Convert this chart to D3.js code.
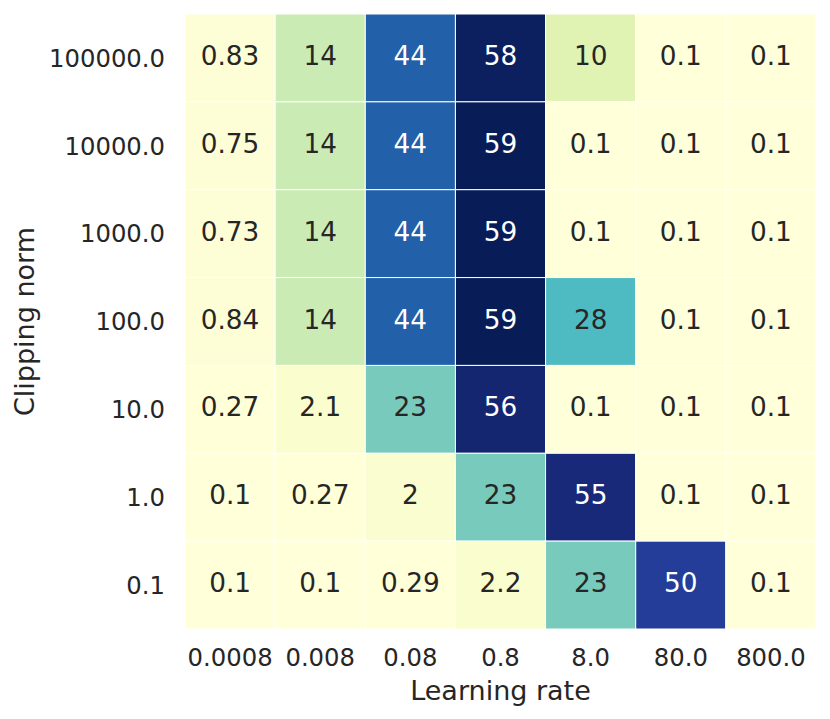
<!DOCTYPE html>
<html>
<head>
<meta charset="utf-8">
<script src="https://cdn.jsdelivr.net/npm/d3@7"></script>
<style>
  html, body { margin: 0; padding: 0; background: #fff; }
  svg { display: block; font-family: "DejaVu Sans", sans-serif; }
</style>
</head>
<body>
<svg id="chart" width="830" height="719"></svg>
<script>
// Data
const learningRates = ["0.0008", "0.008", "0.08", "0.8", "8.0", "80.0", "800.0"];
const clippingNorms = ["100000.0", "10000.0", "1000.0", "100.0", "10.0", "1.0", "0.1"];
const row100000 = [0.83, 14, 44, 58, 10, 0.1, 0.1];
const row10000  = [0.75, 14, 44, 59, 0.1, 0.1, 0.1];
const row1000   = [0.73, 14, 44, 59, 0.1, 0.1, 0.1];
const row100    = [0.84, 14, 44, 59, 28, 0.1, 0.1];
const row10     = [0.27, 2.1, 23, 56, 0.1, 0.1, 0.1];
const row1      = [0.1, 0.27, 2, 23, 55, 0.1, 0.1];
const row01     = [0.1, 0.1, 0.29, 2.2, 23, 50, 0.1];
const rows = [row100000, row10000, row1000, row100, row10, row1, row01];
const xLabel = "Learning rate";
const yLabel = "Clipping norm";

const cells = [];
rows.forEach((r, i) => r.forEach((v, j) => cells.push({ row: clippingNorms[i], col: learningRates[j], v })));

const svg = d3.select("#chart");
const mLeft = 185, mTop = 14, mRight = 816, mBottom = 629;

const x = d3.scaleBand().domain(learningRates).range([mLeft, mRight]).padding(0);
const y = d3.scaleBand().domain(clippingNorms).range([mTop, mBottom]).padding(0);

const allVals = cells.map(d => d.v);
const vmin = d3.min(allVals), vmax = d3.max(allVals);
const ylgnbu = ["#ffffd9","#edf8b1","#c7e9b4","#7fcdbb","#41b6c4","#1d91c0","#225ea8","#253494","#081d58"];
const color = d3.scaleLinear()
  .domain(ylgnbu.map((c, i) => vmin + (vmax - vmin) * i / (ylgnbu.length - 1)))
  .range(ylgnbu)
  .interpolate(d3.interpolateRgb)
  .clamp(true);

function lum(c) {
  const rgb = d3.rgb(c);
  const f = v => { v /= 255; return v <= 0.03928 ? v / 12.92 : Math.pow((v + 0.055) / 1.055, 2.4); };
  return 0.2126 * f(rgb.r) + 0.7152 * f(rgb.g) + 0.0722 * f(rgb.b);
}

svg.append("g").selectAll("rect").data(cells).join("rect")
  .attr("x", d => x(d.col))
  .attr("y", d => y(d.row))
  .attr("width", x.bandwidth())
  .attr("height", y.bandwidth())
  .attr("fill", d => color(d.v))
  .attr("stroke", "#ffffff")
  .attr("stroke-width", 1);

svg.append("g").selectAll("text").data(cells).join("text")
  .attr("x", d => x(d.col) + x.bandwidth() / 2)
  .attr("y", d => y(d.row) + y.bandwidth() / 2)
  .attr("dy", "0.27em")
  .attr("text-anchor", "middle")
  .attr("font-size", 26.3)
  .attr("fill", d => lum(color(d.v)) > 0.408 ? "#262626" : "#ffffff")
  .text(d => String(d.v));

// Axes
const xAxis = d3.axisBottom(x).tickSize(0).tickPadding(0);
const gx = svg.append("g").attr("transform", `translate(0,${mBottom})`).call(xAxis);
gx.select(".domain").remove();
gx.selectAll("text").attr("font-size", 24.3).attr("fill", "#262626")
  .attr("font-family", "DejaVu Sans").attr("dy", null).attr("y", 37);

const yAxis = d3.axisLeft(y).tickSize(0).tickPadding(0);
const gy = svg.append("g").attr("transform", `translate(165,0)`).call(yAxis);
gy.select(".domain").remove();
gy.selectAll("text").attr("font-size", 24.3).attr("fill", "#262626")
  .attr("font-family", "DejaVu Sans").attr("x", 0).attr("dy", "0.36em");

svg.append("text")
  .attr("x", (mLeft + mRight) / 2)
  .attr("y", 700)
  .attr("text-anchor", "middle")
  .attr("font-size", 27)
  .attr("fill", "#262626")
  .text(xLabel);

svg.append("text")
  .attr("transform", `translate(34,${(mTop + mBottom) / 2}) rotate(-90)`)
  .attr("text-anchor", "middle")
  .attr("font-size", 27)
  .attr("fill", "#262626")
  .text(yLabel);
</script>
</body>
</html>
